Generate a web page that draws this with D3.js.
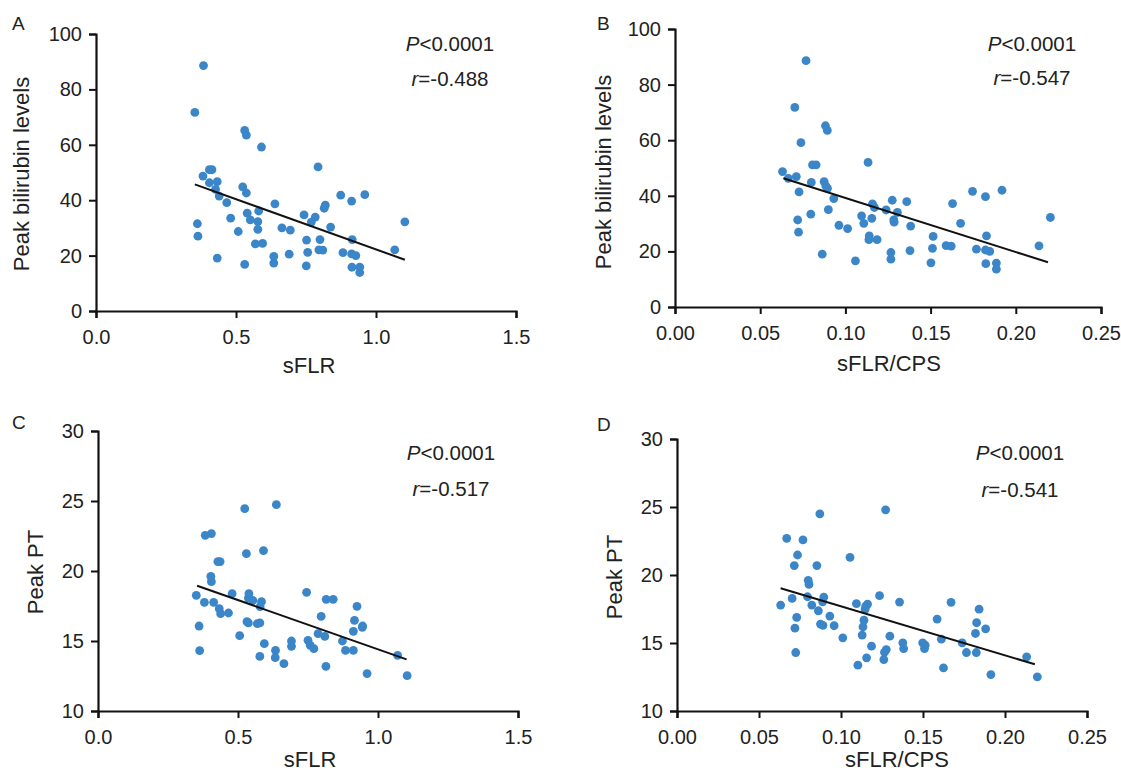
<!DOCTYPE html>
<html>
<head>
<meta charset="utf-8">
<script src="https://cdn.jsdelivr.net/npm/d3@7"></script>
<style>
  body { margin: 0; background: #fff; }
  svg { display: block; font-family: "Liberation Sans", Arial, sans-serif; }
</style>
</head>
<body>
<script>
// ---- data ----
var sflrTicks = [0.0, 0.5, 1.0, 1.5];
var ratioTicks = [0.00, 0.05, 0.10, 0.15, 0.20, 0.25];
var biliTicks = [0, 20, 40, 60, 80, 100];
var ptTicks = [10, 15, 20, 25, 30];

// A: sFLR vs peak bilirubin
var biliBySflr = [[0.384,88.6],[0.353,71.7],[0.531,65.2],[0.537,63.5],[0.591,59.2],[0.793,52.0],[0.405,51.0],[0.414,51.0],[0.382,48.7],[0.405,46.3],[0.433,46.7],[0.427,43.9],[0.440,41.5],[0.524,44.8],[0.537,42.6],[0.467,39.1],[0.639,38.7],[0.874,41.8],[0.960,42.0],[0.913,39.7],[0.819,38.2],[0.815,37.1],[0.540,35.3],[0.581,36.1],[0.743,34.7],[0.783,33.9],[0.769,32.1],[0.481,33.5],[0.551,32.9],[0.578,32.3],[0.578,29.5],[0.664,30.0],[0.694,29.2],[0.838,30.3],[0.508,28.7],[0.362,31.5],[0.364,27.0],[1.103,32.2],[0.752,25.6],[0.800,25.8],[0.915,25.8],[0.569,24.2],[0.595,24.4],[0.796,22.1],[0.810,22.0],[0.756,21.2],[0.882,21.1],[0.913,20.6],[0.928,20.0],[1.067,22.1],[0.690,20.5],[0.635,19.7],[0.635,17.3],[0.433,19.1],[0.531,16.8],[0.751,16.3],[0.914,15.8],[0.942,15.8],[0.942,13.9]];
var fitA = [[0.353,45.7],[1.103,18.5]];

// B: sFLR/CPS vs peak bilirubin
var biliByRatio = [[0.0769,88.6],[0.0703,71.8],[0.0883,65.2],[0.0894,63.5],[0.0739,59.1],[0.1133,52.0],[0.0807,51.1],[0.0828,51.1],[0.0631,48.7],[0.0665,46.3],[0.0712,46.9],[0.0728,41.4],[0.0800,44.8],[0.0875,45.1],[0.0885,43.6],[0.0895,42.7],[0.0932,39.0],[0.0900,35.0],[0.0797,33.4],[0.0720,31.3],[0.0725,26.9],[0.0962,29.4],[0.1013,28.2],[0.1095,32.8],[0.1108,30.1],[0.1155,31.9],[0.1159,37.1],[0.1170,35.8],[0.1140,25.6],[0.1138,24.2],[0.1186,24.2],[0.1239,34.9],[0.1275,38.4],[0.1284,31.3],[0.1286,30.5],[0.1305,34.0],[0.1267,19.6],[0.1267,17.2],[0.1360,37.9],[0.1383,29.1],[0.1379,20.3],[0.1059,16.6],[0.0864,19.0],[0.1515,25.4],[0.1511,21.1],[0.1502,15.9],[0.1591,22.1],[0.1621,21.9],[0.1629,37.2],[0.1676,30.1],[0.1746,41.6],[0.1822,39.7],[0.1919,42.0],[0.1828,25.6],[0.1769,20.8],[0.1822,20.5],[0.1847,20.0],[0.1824,15.6],[0.1886,15.8],[0.1886,13.6],[0.2136,22.0],[0.2203,32.2]];
var fitB = [[0.0636,46.3],[0.2189,16.1]];

// C: sFLR vs peak PT
var ptBySflr = [[0.637,24.74],[0.524,24.45],[0.383,22.55],[0.405,22.67],[0.530,21.24],[0.591,21.45],[0.428,20.67],[0.436,20.67],[0.403,19.62],[0.405,19.24],[0.351,18.26],[0.380,17.76],[0.413,17.76],[0.433,17.31],[0.438,16.95],[0.466,17.0],[0.479,18.38],[0.539,18.38],[0.537,18.07],[0.553,17.9],[0.584,17.81],[0.579,17.45],[0.361,16.07],[0.363,14.31],[0.532,16.38],[0.537,16.29],[0.569,16.24],[0.578,16.29],[0.506,15.38],[0.594,14.81],[0.578,13.90],[0.634,14.33],[0.633,13.81],[0.664,13.38],[0.691,15.0],[0.691,14.62],[0.745,18.48],[0.750,15.05],[0.758,14.69],[0.771,14.45],[0.797,16.76],[0.786,15.52],[0.810,15.33],[0.815,17.98],[0.840,17.98],[0.814,13.19],[0.873,15.0],[0.884,14.33],[0.912,14.33],[0.916,16.48],[0.912,15.69],[0.925,17.48],[0.945,16.07],[0.944,15.98],[0.961,12.67],[1.070,13.98],[1.104,12.52]];
var fitC = [[0.354,18.95],[1.102,13.69]];

// D: sFLR/CPS vs peak PT
var ptByRatio = [[0.1272,24.79],[0.0871,24.50],[0.0669,22.70],[0.0768,22.58],[0.0735,21.47],[0.1055,21.30],[0.0715,20.69],[0.0853,20.69],[0.0800,19.61],[0.0805,19.31],[0.0632,17.79],[0.0702,18.28],[0.0796,18.40],[0.0822,17.79],[0.0895,18.38],[0.0888,18.03],[0.0862,17.37],[0.0932,16.98],[0.0730,16.88],[0.0719,16.09],[0.0724,14.30],[0.0875,16.39],[0.0890,16.29],[0.0958,16.27],[0.1011,15.38],[0.1094,17.89],[0.1151,17.71],[0.1162,17.86],[0.1147,17.47],[0.1140,16.68],[0.1134,16.19],[0.1129,15.58],[0.1186,14.77],[0.1156,13.91],[0.1103,13.37],[0.1235,18.48],[0.1298,15.50],[0.1276,14.52],[0.1265,14.32],[0.1261,13.78],[0.1357,18.01],[0.1377,15.01],[0.1382,14.59],[0.1498,15.01],[0.1509,14.59],[0.1513,14.84],[0.1586,16.76],[0.1612,15.28],[0.1625,13.17],[0.1671,17.99],[0.1739,15.01],[0.1765,14.30],[0.1825,14.30],[0.1820,15.70],[0.1827,16.49],[0.1842,17.49],[0.1882,16.04],[0.1914,12.68],[0.2132,13.98],[0.2197,12.51]];
var fitD = [[0.0632,19.02],[0.2182,13.44]];

var panelLetters = ["A", "B", "C", "D"];
var xTitles = ["sFLR", "sFLR/CPS", "sFLR", "sFLR/CPS"];
var yTitles = ["Peak bilirubin levels", "Peak bilirubin levels", "Peak PT", "Peak PT"];
var rValues = ["-0.488", "-0.547", "-0.517", "-0.541"];
var pText = "<0.0001";

// ---- layout ----
var width = 1121, height = 775;
var dotColor = "#3b86c8";

var panels = [
  { points: biliBySflr, fit: fitA, xTicks: sflrTicks, yTicks: biliTicks, fmt: d3.format(".1f"),
    x: [96, 516], y: [311, 34], letter: [12, 30], stat: [450, 51, 86], xt: [309, 373], yt: [29, 174] },
  { points: biliByRatio, fit: fitB, xTicks: ratioTicks, yTicks: biliTicks, fmt: d3.format(".2f"),
    x: [675, 1101], y: [307, 29], letter: [597, 30], stat: [1032, 51, 85], xt: [889, 371], yt: [611, 172] },
  { points: ptBySflr, fit: fitC, xTicks: sflrTicks, yTicks: ptTicks, fmt: d3.format(".1f"),
    x: [98, 518], y: [711, 431], letter: [12, 429], stat: [451, 460, 496], xt: [310, 767], yt: [43, 572] },
  { points: ptByRatio, fit: fitD, xTicks: ratioTicks, yTicks: ptTicks, fmt: d3.format(".2f"),
    x: [677, 1087], y: [711, 439], letter: [597, 431], stat: [1020, 460, 497], xt: [897, 767], yt: [622, 577] }
];

var svg = d3.select("body")
    .append("svg")
    .attr("width", width)
    .attr("height", height);

panels.forEach(function (p, i) {
    var xDomain = d3.extent(p.xTicks),
        yDomain = d3.extent(p.yTicks);

    var x = d3.scaleLinear().domain(xDomain).range(p.x);
    var y = d3.scaleLinear().domain(yDomain).range(p.y);

    var g = svg.append("g");

    // axes
    var xAxis = g.append("g")
        .attr("transform", "translate(0," + p.y[0] + ")")
        .call(d3.axisBottom(x).tickValues(p.xTicks).tickFormat(p.fmt).tickSize(7).tickPadding(7));
    var yAxis = g.append("g")
        .attr("transform", "translate(" + p.x[0] + ",0)")
        .call(d3.axisLeft(y).tickValues(p.yTicks).tickSize(7).tickPadding(7));

    [xAxis, yAxis].forEach(function (ax) {
        ax.select(".domain").attr("stroke", "#111").attr("stroke-width", 2.2);
        ax.selectAll(".tick line").attr("stroke", "#111").attr("stroke-width", 2);
        ax.selectAll(".tick text")
            .attr("fill", "#222")
            .style("font-size", "20px");
    });
    xAxis.selectAll(".tick text").attr("dy", "0.95em");

    // points
    g.append("g")
        .selectAll("circle")
        .data(p.points)
        .enter().append("circle")
        .attr("cx", function (d) { return x(d[0]); })
        .attr("cy", function (d) { return y(d[1]); })
        .attr("r", 4.4)
        .attr("fill", dotColor);

    // regression line
    g.append("path")
        .datum(p.fit)
        .attr("d", d3.line()
            .x(function (d) { return x(d[0]); })
            .y(function (d) { return y(d[1]); }))
        .attr("fill", "none")
        .attr("stroke", "#111")
        .attr("stroke-width", 2);

    // panel letter
    g.append("text")
        .attr("x", p.letter[0])
        .attr("y", p.letter[1])
        .style("font-size", "19px")
        .attr("fill", "#222")
        .text(panelLetters[i]);

    // axis titles
    g.append("text")
        .attr("x", p.xt[0])
        .attr("y", p.xt[1])
        .attr("text-anchor", "middle")
        .style("font-size", "22px")
        .attr("fill", "#222")
        .text(xTitles[i]);

    g.append("text")
        .attr("transform", "translate(" + p.yt[0] + "," + p.yt[1] + ") rotate(-90)")
        .attr("text-anchor", "middle")
        .style("font-size", "22px")
        .attr("fill", "#222")
        .text(yTitles[i]);

    // stats
    var pt = g.append("text")
        .attr("x", p.stat[0])
        .attr("y", p.stat[1])
        .attr("text-anchor", "middle")
        .style("font-size", "20.5px")
        .attr("fill", "#222");
    pt.append("tspan").style("font-style", "italic").text("P");
    pt.append("tspan").text(pText);

    var rt = g.append("text")
        .attr("x", p.stat[0])
        .attr("y", p.stat[2])
        .attr("text-anchor", "middle")
        .style("font-size", "20.5px")
        .attr("fill", "#222");
    rt.append("tspan").style("font-style", "italic").text("r");
    rt.append("tspan").text("=" + rValues[i]);
});
</script>
</body>
</html>
